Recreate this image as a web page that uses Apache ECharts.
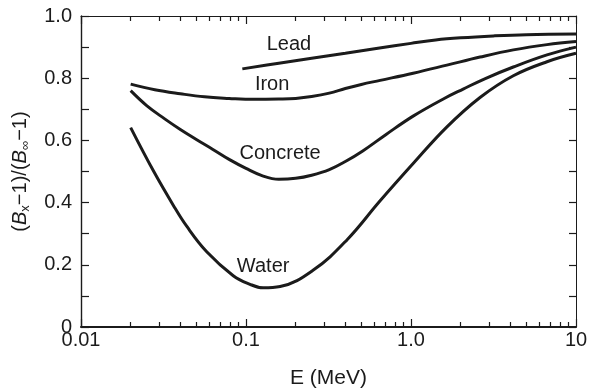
<!DOCTYPE html>
<html>
<head>
<meta charset="utf-8">
<script src="https://cdn.jsdelivr.net/npm/echarts@6/dist/echarts.min.js"></script>
<style>
  html, body { margin: 0; padding: 0; background: #fff; }
  #chart { width: 589px; height: 389px; }
</style>
</head>
<body>
<div id="chart"></div>
<script>
// buildup factor ratio vs photon energy
const leadE = [0.095, 0.158, 0.25, 0.4, 0.63, 1.0, 1.41, 2.0, 3.16, 5.0, 10];
const leadY = [0.830, 0.848, 0.864, 0.880, 0.896, 0.912, 0.923, 0.930, 0.936, 0.940, 0.942];

const ironE = [0.02, 0.028, 0.04, 0.056, 0.079, 0.112, 0.158, 0.2, 0.25, 0.32, 0.4, 0.5, 0.65, 1.03, 1.65, 2.62, 4.17, 6.67, 10];
const ironY = [0.781, 0.763, 0.750, 0.740, 0.735, 0.732, 0.733, 0.735, 0.741, 0.752, 0.767, 0.780, 0.793, 0.816, 0.842, 0.868, 0.891, 0.908, 0.918];

const concreteE = [0.02, 0.025, 0.032, 0.04, 0.05, 0.063, 0.079, 0.1, 0.126, 0.158, 0.2, 0.25, 0.32, 0.4, 0.51, 0.71, 1.03, 1.58, 2.07, 2.82, 4.17, 6.67, 10];
const concreteY = [0.760, 0.712, 0.670, 0.635, 0.603, 0.571, 0.539, 0.510, 0.486, 0.475, 0.478, 0.488, 0.506, 0.532, 0.566, 0.620, 0.678, 0.734, 0.765, 0.799, 0.836, 0.875, 0.900];

const waterE = [0.02, 0.0274, 0.0363, 0.0437, 0.0578, 0.0837, 0.105, 0.127, 0.161, 0.256, 0.409, 0.648, 1.04, 1.64, 2.62, 4.17, 6.67, 10];
const waterY = [0.641, 0.503, 0.391, 0.324, 0.242, 0.165, 0.138, 0.126, 0.130, 0.183, 0.280, 0.405, 0.528, 0.642, 0.738, 0.808, 0.853, 0.880];

// curve labels (placed in data coordinates)
const labelNames = ['Lead', 'Iron', 'Concrete', 'Water'];
const labelE = [0.182, 0.144, 0.161, 0.127];
const labelY = [0.910, 0.781, 0.559, 0.193];

// minor decade ticks 2..9
const xMinorTicks = [0.02, 0.03, 0.04, 0.05, 0.06, 0.07, 0.08, 0.09,
  0.2, 0.3, 0.4, 0.5, 0.6, 0.7, 0.8, 0.9,
  2, 3, 4, 5, 6, 7, 8, 9];

const ink = '#1b1b1b';
const font = '"Liberation Sans", Arial, Helvetica, sans-serif';
const plotRect = { left: 81, right: 13, top: 16, bottom: 62, outerBoundsMode: 'none' };

function pairs(xs, ys) {
  return xs.map((x, i) => [x, ys[i]]);
}

// a plain log axis with everything switched off
function logAxis(grid, pos, extra) {
  return Object.assign({
    gridIndex: grid,
    type: 'log',
    logBase: 10,
    min: 0.01,
    max: 10,
    position: pos,
    splitLine: { show: false },
    axisLine: { show: false, onZero: false },
    axisLabel: { show: false },
    axisTick: { show: false }
  }, extra);
}

// tick-only axis in decades, for the 2..9 marks
function minorTickAxis(pos) {
  return {
    gridIndex: 1,
    type: 'value',
    min: -2,
    max: 1,
    position: pos,
    splitLine: { show: false },
    axisLine: { show: false, onZero: false },
    axisLabel: { show: false },
    axisTick: {
      show: true,
      inside: true,
      length: 5,
      customValues: xMinorTicks.map((v) => Math.log10(v)),
      lineStyle: { color: ink, width: 1.2 }
    }
  };
}

const majorTick = { show: true, inside: true, length: 8, lineStyle: { color: ink, width: 1.2 } };

const myChart = echarts.init(document.getElementById('chart'));

const curves = [
  { name: 'Lead', data: pairs(leadE, leadY) },
  { name: 'Iron', data: pairs(ironE, ironY) },
  { name: 'Concrete', data: pairs(concreteE, concreteY) },
  { name: 'Water', data: pairs(waterE, waterY) }
];

const option = {
  animation: false,
  textStyle: { fontFamily: font },
  // grid 0 holds the curves and the y axes, grid 1 (same box) only the x ticks,
  // because a y axis pinned to the left edge hides the x ticks of its own grid
  grid: [Object.assign({}, plotRect), Object.assign({}, plotRect)],
  xAxis: [
    logAxis(0, 'bottom', {
      name: 'E (MeV)',
      nameLocation: 'middle',
      nameGap: 41,
      nameTextStyle: { fontSize: 21, color: ink, fontFamily: font },
      axisLine: { show: true, onZero: false, lineStyle: { color: ink, width: 2 } },
      axisLabel: {
        show: true,
        fontSize: 20,
        color: ink,
        margin: 3,
        formatter: (v) => (v >= 0.999 && v <= 1.001 ? '1.0' : String(+v.toPrecision(3)))
      }
    }),
    logAxis(1, 'bottom', { axisTick: majorTick }),
    minorTickAxis('bottom'),
    logAxis(1, 'top', {
      axisLine: { show: true, onZero: false, lineStyle: { color: ink, width: 1 } },
      axisTick: majorTick
    }),
    minorTickAxis('top')
  ],
  yAxis: [
    {
      gridIndex: 0,
      type: 'value',
      min: 0,
      max: 1,
      interval: 0.1,
      position: 'left',
      name: '({i|B}{s|x}−1)/({i|B}{s|∞}−1)',
      nameLocation: 'middle',
      nameGap: 49,
      nameTextStyle: {
        fontSize: 20,
        color: ink,
        fontFamily: font,
        lineHeight: 24,
        rich: {
          i: { fontStyle: 'italic', fontSize: 20, color: ink, fontFamily: font, lineHeight: 24 },
          s: { fontSize: 13, color: ink, fontFamily: font, lineHeight: 12, verticalAlign: 'bottom' }
        }
      },
      splitLine: { show: false },
      axisLine: { show: true, onZero: false, lineStyle: { color: ink, width: 1.4 } },
      axisTick: { show: true, inside: true, length: 8, lineStyle: { color: ink, width: 1.2 } },
      axisLabel: {
        fontSize: 20,
        color: ink,
        margin: 9,
        formatter: (v) => {
          const k = Math.round(v * 10);
          if (k % 2) return '';
          return k === 0 ? '0' : v.toFixed(1);
        }
      }
    },
    {
      gridIndex: 0,
      type: 'value',
      min: 0,
      max: 1,
      interval: 0.1,
      position: 'right',
      splitLine: { show: false },
      axisLine: { show: true, onZero: false, lineStyle: { color: ink, width: 1 } },
      axisTick: { show: true, inside: true, length: 7, lineStyle: { color: ink, width: 1.2 } },
      axisLabel: { show: false }
    },
    {
      gridIndex: 1,
      type: 'value',
      min: 0,
      max: 1,
      show: false
    }
  ],
  series: curves.map((c, idx) => ({
    name: c.name,
    type: 'line',
    xAxisIndex: 0,
    yAxisIndex: 0,
    data: c.data,
    smooth: 0.4,
    showSymbol: false,
    symbol: 'none',
    lineStyle: { color: ink, width: 3 },
    markPoint: {
      symbol: 'circle',
      symbolSize: 0,
      silent: true,
      label: {
        show: true,
        position: 'inside',
        fontSize: 20,
        color: ink,
        fontFamily: font,
        formatter: () => labelNames[idx]
      },
      data: [{ coord: [labelE[idx], labelY[idx]] }]
    }
  }))
};

myChart.setOption(option);
</script>
</body>
</html>
